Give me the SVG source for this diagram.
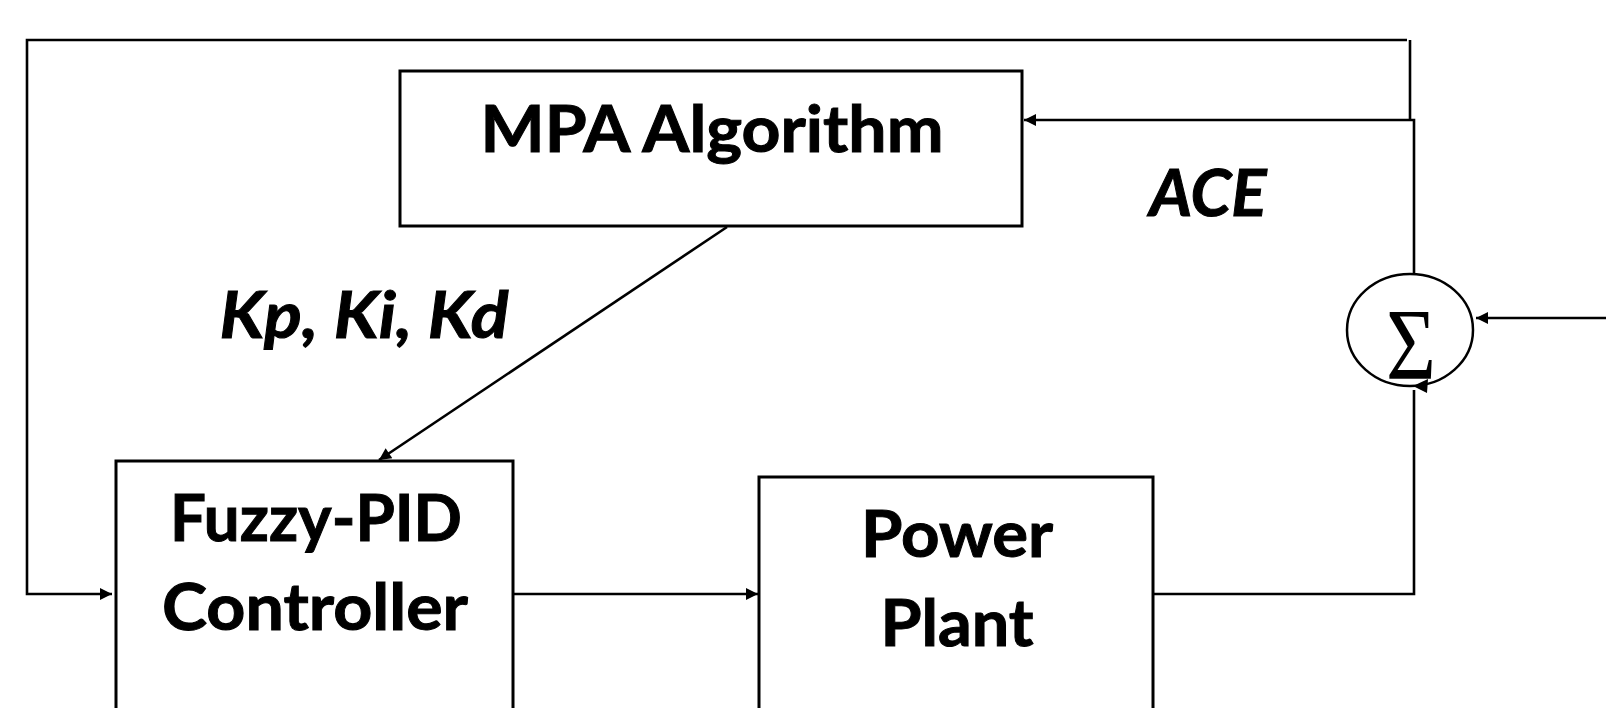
<svg xmlns="http://www.w3.org/2000/svg" width="1606" height="708" viewBox="0 0 1606 708">
<defs>
<style>
.box{fill:#fff;stroke:#000;stroke-width:3}
.ln{fill:none;stroke:#000;stroke-width:2.6}
.lbl{font-family:Lato,"Liberation Sans",sans-serif;font-weight:bold;font-size:65px;fill:#000;stroke:#000;stroke-width:1;text-anchor:middle}
.it{font-style:italic}
</style>
<marker id="ah" viewBox="0 0 10 10" refX="10" refY="5" markerWidth="15" markerHeight="12" markerUnits="userSpaceOnUse" orient="auto">
<path d="M0,0 L10,5 L0,10 z" fill="#000"/>
</marker>
</defs>
<rect width="1606" height="708" fill="#fff"/>
<g id="connectors">
<polyline class="ln" points="1407,40 27,40 27,594 112,594" marker-end="url(#ah)"/>
<line class="ln" x1="1410" y1="40" x2="1410" y2="120"/>
<polyline class="ln" points="1414,274 1414,120 1024,120" marker-end="url(#ah)"/>
<line class="ln" x1="727" y1="227" x2="379" y2="460" marker-end="url(#ah)"/>
<line class="ln" x1="513" y1="594" x2="758" y2="594" marker-end="url(#ah)"/>
<polyline class="ln" points="1153,594 1414,594 1414,390"/>
<polygon points="1413,386 1428,379 1427,393" fill="#000"/>
<line class="ln" x1="1606" y1="318" x2="1476" y2="318" marker-end="url(#ah)"/>
</g>
<g id="mpa">
<rect class="box" x="400" y="71" width="622" height="155"/>
<text class="lbl" x="712" y="152" textLength="463" lengthAdjust="spacingAndGlyphs">MPA Algorithm</text>
</g>
<g id="fuzzy">
<rect class="box" x="116" y="461" width="397" height="280"/>
<text class="lbl" x="316" y="541" textLength="292" lengthAdjust="spacingAndGlyphs">Fuzzy-PID</text>
<text class="lbl" x="315" y="630" textLength="306" lengthAdjust="spacingAndGlyphs">Controller</text>
</g>
<g id="plant">
<rect class="box" x="759" y="477" width="394" height="270"/>
<text class="lbl" x="957" y="557" textLength="192" lengthAdjust="spacingAndGlyphs">Power</text>
<text class="lbl" x="957" y="646" textLength="153" lengthAdjust="spacingAndGlyphs">Plant</text>
</g>
<g id="sum">
<ellipse cx="1410" cy="330" rx="63" ry="56" fill="none" stroke="#000" stroke-width="2.5"/>
<text x="1411" y="379" font-family="'Liberation Serif',serif" font-size="102" text-anchor="middle" textLength="50" lengthAdjust="spacingAndGlyphs">Σ</text>
</g>
<g id="labels">
<text class="lbl it" x="364" y="338" textLength="289" lengthAdjust="spacingAndGlyphs">Kp, Ki, Kd</text>
<text class="lbl it" x="1208" y="216" textLength="117" lengthAdjust="spacingAndGlyphs">ACE</text>
</g>
</svg>
